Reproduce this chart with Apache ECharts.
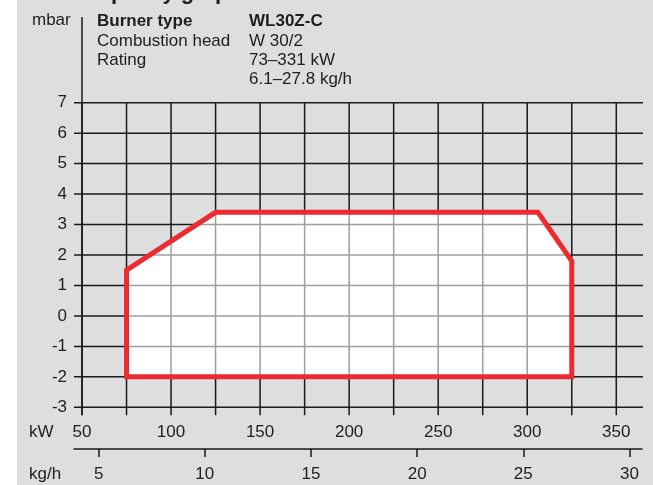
<!DOCTYPE html>
<html>
<head>
<meta charset="utf-8">
<script src="https://cdn.jsdelivr.net/npm/echarts@6/dist/echarts.min.js"></script>
<style>
  html, body { margin: 0; padding: 0; background: #ffffff; }
  #chart { width: 653px; height: 485px; background: linear-gradient(to right, #ffffff 17px, #dddee0 17px); }
</style>
</head>
<body>
<div id="chart"></div>
<script>
// ---- data ----
const kwGridLines = [50, 75, 100, 125, 150, 175, 200, 225, 250, 275, 300, 325, 350];
const mbarGridLines = [-3, -2, -1, 0, 1, 2, 3, 4, 5, 6, 7];
const kwTickLabels = [50, 100, 150, 200, 250, 300, 350];
const mbarTickLabels = [-3, -2, -1, 0, 1, 2, 3, 4, 5, 6, 7];
const kghTickLabels = [5, 10, 15, 20, 25, 30];
// working field envelope (kW, mbar)
const envelopeKW   = [75, 75, 125, 306, 325, 325];
const envelopeMbar = [-2, 1.5, 3.4, 3.4, 1.8, -2];

const FONT = "'Liberation Sans', Arial, sans-serif";
const TXT = '#1e1e1e';
const LINE = '#1a1a1a';

const chart = echarts.init(document.getElementById('chart'), null, { renderer: 'canvas' });

function polygonPoints(api) {
  return envelopeKW.map((kw, i) => api.coord([kw, envelopeMbar[i]]));
}

const option = {
  backgroundColor: 'transparent',
  animation: false,
  grid: [
    { left: 82, right: 10, top: 102.7, height: 304.6 },
    { left: 74, width: 568, top: 448, height: 1 }
  ],
  xAxis: [
    {
      gridIndex: 0, type: 'value', min: 50, max: 365,
      axisLine: { show: false }, axisTick: { show: false }, splitLine: { show: false },
      axisLabel: { customValues: kwTickLabels, color: TXT, fontSize: 17, fontFamily: FONT, margin: 17 }
    },
    {
      gridIndex: 1, type: 'value', min: 3.84, max: 30.59,
      axisLine: { show: true, lineStyle: { color: LINE, width: 1.5 } },
      axisTick: { show: true, customValues: kghTickLabels, length: 8, lineStyle: { color: LINE, width: 1.5 } },
      splitLine: { show: false },
      axisLabel: { customValues: kghTickLabels, color: TXT, fontSize: 17, fontFamily: FONT, margin: 17 }
    }
  ],
  yAxis: [
    {
      gridIndex: 0, type: 'value', min: -3, max: 7,
      axisLine: { show: false }, axisTick: { show: false }, splitLine: { show: false },
      axisLabel: { customValues: mbarTickLabels, color: TXT, fontSize: 17, fontFamily: FONT, margin: 15 }
    },
    { gridIndex: 1, type: 'value', show: false, min: 0, max: 1 }
  ],
  graphic: [
    { type: 'text', x: 83, y: 4, style: { text: 'Capacity graph', font: "bold 22px " + FONT, fill: TXT, textVerticalAlign: 'bottom' } },
    { type: 'text', x: 32, y: 29, style: { text: 'mbar', font: "17px " + FONT, fill: TXT, textVerticalAlign: 'bottom' } },
    { type: 'text', x: 97, y: 29.5, style: { text: 'Burner type', font: "bold 17px " + FONT, fill: TXT, textVerticalAlign: 'bottom' } },
    { type: 'text', x: 249, y: 29.5, style: { text: 'WL30Z-C', font: "bold 17px " + FONT, fill: TXT, textVerticalAlign: 'bottom' } },
    { type: 'text', x: 97, y: 49.5, style: { text: 'Combustion head', font: "17px " + FONT, fill: TXT, textVerticalAlign: 'bottom' } },
    { type: 'text', x: 249, y: 49.5, style: { text: 'W 30/2', font: "17px " + FONT, fill: TXT, textVerticalAlign: 'bottom' } },
    { type: 'text', x: 97, y: 68.5, style: { text: 'Rating', font: "17px " + FONT, fill: TXT, textVerticalAlign: 'bottom' } },
    { type: 'text', x: 249, y: 68.5, style: { text: '73–331 kW', font: "17px " + FONT, fill: TXT, textVerticalAlign: 'bottom' } },
    { type: 'text', x: 249, y: 88, style: { text: '6.1–27.8 kg/h', font: "17px " + FONT, fill: TXT, textVerticalAlign: 'bottom' } },
    { type: 'text', x: 29, y: 432, style: { text: 'kW', font: "17px " + FONT, fill: TXT, textVerticalAlign: 'middle' } },
    { type: 'text', x: 29, y: 474, style: { text: 'kg/h', font: "17px " + FONT, fill: TXT, textVerticalAlign: 'middle' } }
  ],
  series: [
    {
      name: 'fillBase', type: 'custom', xAxisIndex: 0, yAxisIndex: 0, z: 1, silent: true,
      data: [0],
      renderItem: function (params, api) {
        return { type: 'polygon', shape: { points: polygonPoints(api) }, style: { fill: '#ffffff', stroke: 'none' } };
      }
    },
    {
      name: 'gridLines', type: 'custom', xAxisIndex: 0, yAxisIndex: 0, z: 2, silent: true,
      data: [0],
      renderItem: function (params, api) {
        const cs = params.coordSys;
        const children = [];
        const st = { stroke: LINE, lineWidth: 1.5 };
        const top7 = api.coord([50, 7])[1];
        const bottom = api.coord([50, -3])[1];
        kwGridLines.forEach(kw => {
          const x = api.coord([kw, 0])[0];
          children.push({ type: 'line', shape: { x1: x, y1: top7, x2: x, y2: bottom + 8 }, style: st });
        });
        const xl = api.coord([50, 0])[0];
        mbarGridLines.forEach(m => {
          const y = api.coord([50, m])[1];
          children.push({ type: 'line', shape: { x1: xl - 8, y1: y, x2: cs.x + cs.width, y2: y }, style: st });
        });
        // vertical mbar axis line, extended up beside the header
        children.push({ type: 'line', shape: { x1: xl, y1: 17, x2: xl, y2: bottom + 8 }, style: st });
        return { type: 'group', children: children };
      }
    },
    {
      name: 'envelope', type: 'custom', xAxisIndex: 0, yAxisIndex: 0, z: 3, silent: true,
      data: [0],
      renderItem: function (params, api) {
        return {
          type: 'group',
          children: [
            { type: 'polygon', shape: { points: polygonPoints(api) }, style: { fill: 'rgba(255,255,255,0.58)', stroke: 'none' } },
            { type: 'polygon', shape: { points: polygonPoints(api) }, style: { fill: 'none', stroke: '#ec2a30', lineWidth: 5, lineJoin: 'miter' } }
          ]
        };
      }
    }
  ]
};
chart.setOption(option);
</script>
</body>
</html>
